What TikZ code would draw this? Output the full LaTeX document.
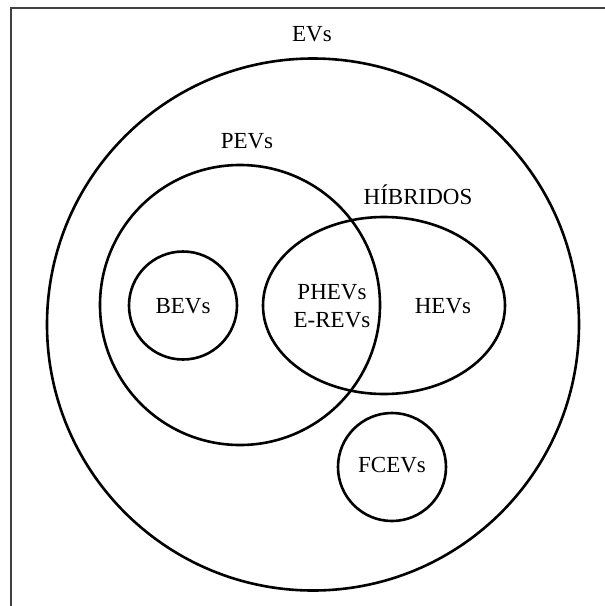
\documentclass[tikz,border=0pt]{standalone}
\usepackage{fontspec}
\setmainfont{Liberation Serif}
\usetikzlibrary{shapes.geometric}
\begin{document}
\begin{tikzpicture}[x=1pt,y=-1pt,
  setline/.style={draw=black,line width=2.6pt,inner sep=0pt},
  setcircle/.style={setline,circle},
  lbl/.style={anchor=base,inner sep=0pt,font=\fontsize{23}{28}\selectfont},
  frameline/.style={draw=black!75,line width=1.3pt}]
\useasboundingbox (0,0) rectangle (605,606);
\coordinate (tl) at (11,8);
\coordinate (tr) at (605,8);
\coordinate (bl) at (11,606);
\draw[frameline] (tr) -- (tl) -- (bl);
\node[setcircle,minimum size=532pt] (evs) at (313,324.5) {};
\node[setcircle,minimum size=280pt] (pevs) at (240,305) {};
\node[setcircle,minimum size=108pt] (bevs) at (183,305.5) {};
\node[setline,ellipse,minimum width=242pt,minimum height=177pt] (hib) at (384,305.5) {};
\node[setcircle,minimum size=108pt] (fcevs) at (392,467) {};
\node[lbl] (tevs) at (312,41) {EVs};
\node[lbl] (tpevs) at (247,148) {PEVs};
\node[lbl] (thib) at (418,204) {HÍBRIDOS};
\node[lbl] (tbevs) at (183,313) {BEVs};
\node[lbl] (tphevs) at (332,299) {PHEVs};
\node[lbl] (terevs) at (332,327) {E-REVs};
\node[lbl] (thevs) at (443,313) {HEVs};
\node[lbl] (tfcevs) at (392,472) {FCEVs};
\end{tikzpicture}
\end{document}
